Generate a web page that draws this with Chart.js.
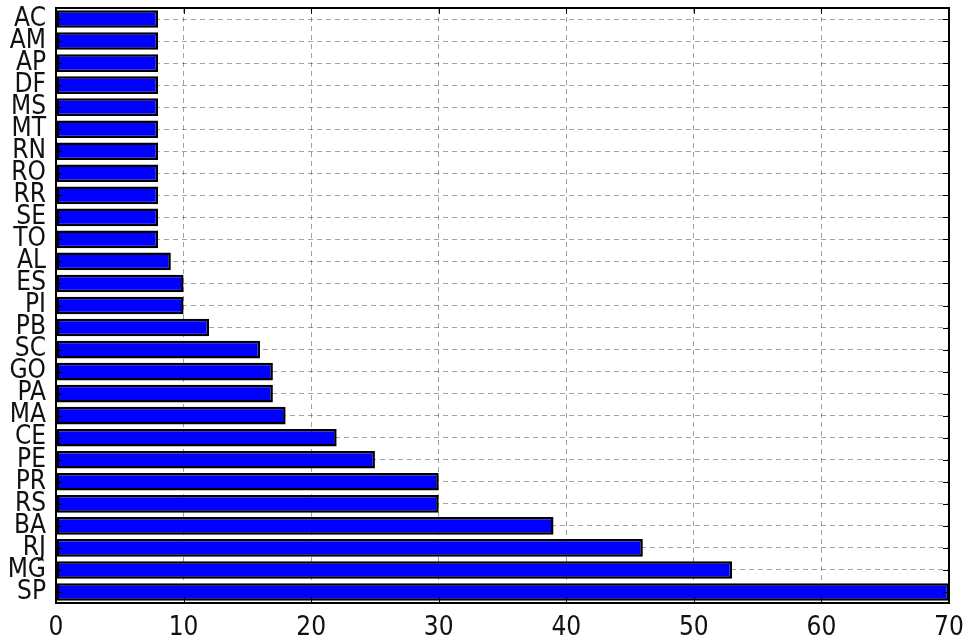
<!DOCTYPE html>
<html>
<head>
<meta charset="utf-8">
<script src="https://cdn.jsdelivr.net/npm/chart.js@4/dist/chart.umd.min.js"></script>
<style>
  html, body { margin: 0; padding: 0; background: #fff; }
  #wrap { width: 964px; height: 643px; }
</style>
</head>
<body>
<div id="wrap"><canvas id="chart" width="964" height="643"></canvas></div>
<script>
// states, top to bottom as in the picture
const states = ['AC', 'AM', 'AP', 'DF', 'MS', 'MT', 'RN', 'RO', 'RR', 'SE', 'TO',
                'AL', 'ES', 'PI', 'PB', 'SC', 'GO', 'PA', 'MA', 'CE', 'PE', 'PR',
                'RS', 'BA', 'RJ', 'MG', 'SP'];
const counts = [8, 8, 8, 8, 8, 8, 8, 8, 8, 8, 8,
                9, 10, 10, 12, 16, 17, 17, 18, 22, 25, 30,
                30, 39, 46, 53, 70];
const xTicks = [0, 10, 20, 30, 40, 50, 60, 70];

const tickFont = { family: "'DejaVu Sans Condensed', 'DejaVu Sans', sans-serif", size: 26 };

// frame + inward tick marks on all four sides, matplotlib style
const framePlugin = {
    id: 'frame',
    afterDraw(chart) {
        const { ctx, chartArea: a, scales } = chart;
        ctx.save();
        ctx.strokeStyle = '#000';
        ctx.lineWidth = 1;
        ctx.beginPath();
        scales.x.ticks.forEach((t, i) => {
            const px = Math.round(scales.x.getPixelForTick(i)) + 0.5;
            ctx.moveTo(px, a.bottom); ctx.lineTo(px, a.bottom - 6);
            ctx.moveTo(px, a.top); ctx.lineTo(px, a.top + 6);
        });
        scales.y.ticks.forEach((t, i) => {
            const py = Math.round(scales.y.getPixelForTick(i)) + 0.5;
            ctx.moveTo(a.left, py); ctx.lineTo(a.left + 6, py);
            ctx.moveTo(a.right, py); ctx.lineTo(a.right - 6, py);
        });
        ctx.stroke();
        ctx.lineWidth = 2;
        ctx.strokeRect(a.left, a.top, a.right - a.left, a.bottom - a.top);
        ctx.restore();
    }
};

new Chart(document.getElementById('chart'), {
    type: 'bar',
    data: {
        labels: states,
        datasets: [{
            data: counts,
            backgroundColor: '#0000ff',
            borderColor: '#000',
            borderWidth: 2.5,
            borderSkipped: false,
            barPercentage: 0.8,
            categoryPercentage: 1.0,
        }]
    },
    options: {
        indexAxis: 'y',
        responsive: false,
        animation: false,
        layout: { padding: { top: 8, right: 15, left: 0, bottom: 0 } },
        plugins: { legend: { display: false }, tooltip: { enabled: false } },
        scales: {
            x: {
                min: 0, max: 70,
                z: 1,
                afterBuildTicks: s => { s.ticks = xTicks.map(v => ({ value: v })); },
                afterFit: s => { s.height = 40; s.paddingLeft = 0; s.paddingRight = 0; },
                grid: { color: 'rgba(0,0,0,0.36)', lineWidth: 1, drawTicks: false },
                border: { display: false, dash: [5, 4] },
                ticks: { color: '#111', font: tickFont, padding: 10, maxRotation: 0 }
            },
            y: {
                z: 1,
                afterFit: s => { s.width = 56; s.paddingTop = 0; s.paddingBottom = 0; },
                grid: { color: 'rgba(0,0,0,0.36)', lineWidth: 1, drawTicks: false, offset: false },
                border: { display: false, dash: [5, 4] },
                ticks: { color: '#111', font: tickFont, padding: 10, autoSkip: false }
            }
        }
    },
    plugins: [framePlugin]
});
</script>
</body>
</html>
